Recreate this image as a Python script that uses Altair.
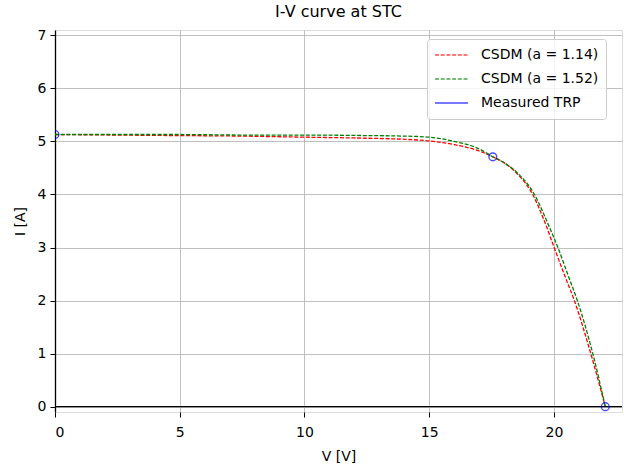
import altair as alt
import pandas as pd

# ---- data ----
v_red = [0, 2.5, 5, 7.5, 10, 12.5, 14, 15, 16, 17, 17.55, 18, 18.51, 19.15, 19.65, 20.01, 20.41, 20.82, 21.48, 22.06]
i_red = [5.13, 5.12, 5.11, 5.10, 5.08, 5.06, 5.04, 5.01, 4.94, 4.82, 4.71, 4.60, 4.40, 4.0, 3.46, 3.0, 2.5, 2.0, 1.0, 0.0]

v_green = [0, 2.5, 5, 7.5, 10, 12.5, 14, 15, 16, 17, 17.55, 18, 18.55, 19.22, 19.75, 20.16, 20.55, 20.94, 21.56, 22.06]
i_green = [5.13, 5.13, 5.13, 5.12, 5.12, 5.11, 5.10, 5.08, 5.00, 4.86, 4.71, 4.60, 4.40, 4.0, 3.46, 3.0, 2.5, 2.0, 1.0, 0.0]

v_meas = [0, 17.55, 22.06]
i_meas = [5.13, 4.71, 0.0]

series_names = ["CSDM (a = 1.14)", "CSDM (a = 1.52)", "Measured TRP"]
series_colors = ["#ff0000", "#008000", "#0000ff"]
series_dash = [[4, 1.7], [4, 1.7], [1, 0]]

x_ticks = [0, 5, 10, 15, 20]
y_ticks = [0, 1, 2, 3, 4, 5, 6, 7]
zero_line = [0]

curves = pd.concat([
    pd.DataFrame({"V": v_red, "I": i_red, "series": series_names[0]}),
    pd.DataFrame({"V": v_green, "I": i_green, "series": series_names[1]}),
])
meas = pd.DataFrame({"V": v_meas, "I": i_meas, "series": series_names[2]})
zero_df = pd.DataFrame({"I": zero_line})

FONT = "DejaVu Sans"

xscale = alt.Scale(domain=[0, 22.73], nice=False, zero=False)
yscale = alt.Scale(domain=[-0.1, 7.1], nice=False, zero=False)
color = alt.Color(
    "series:N",
    scale=alt.Scale(domain=series_names, range=series_colors),
    legend=alt.Legend(
        title=None,
        orient="none",
        legendX=372,
        legendY=9,
        symbolType="stroke",
        symbolSize=1089,
        symbolStrokeWidth=1.4,
        labelFontSize=14,
        labelFont=FONT,
        labelColor="#000000",
        clipHeight=18,
        rowPadding=6,
        labelOffset=12,
        padding=7,
        fillColor="rgba(255,255,255,0.8)",
        strokeColor="#cccccc",
        cornerRadius=3,
    ),
)
dash = alt.StrokeDash(
    "series:N",
    scale=alt.Scale(domain=series_names, range=series_dash),
    legend=None,
)

x_enc = alt.X(
    "V:Q",
    scale=xscale,
    axis=alt.Axis(
        values=x_ticks,
        title="V [V]",
        grid=True,
        gridColor="#b0b0b0",
        gridWidth=0.8,
        domain=False,
        tickColor="#000000",
        tickSize=5,
        labelFontSize=14,
        labelPadding=8,
        labelFont=FONT,
        labelColor="#000000",
        titleFont=FONT,
        titleFontSize=14,
        titleFontWeight="normal",
        titleColor="#000000",
        titlePadding=10,
    ),
)
y_enc = alt.Y(
    "I:Q",
    scale=yscale,
    axis=alt.Axis(
        values=y_ticks,
        title="I [A]",
        grid=True,
        gridColor="#b0b0b0",
        gridWidth=0.8,
        domainColor="#000000",
        domainWidth=1.3,
        tickColor="#000000",
        tickSize=5,
        labelFontSize=14,
        labelPadding=4,
        labelFont=FONT,
        labelColor="#000000",
        titleFont=FONT,
        titleFontSize=14,
        titleFontWeight="normal",
        titleColor="#000000",
        titlePadding=10,
    ),
)

zero_rule = alt.Chart(zero_df).mark_rule(color="#000000", strokeWidth=1.3).encode(
    y=alt.Y("I:Q", scale=yscale)
)
lines = alt.Chart(curves).mark_line(
    strokeWidth=1.3, clip=True, interpolate="monotone"
).encode(x=x_enc, y=y_enc, color=color, strokeDash=dash, order="V:Q")
points = alt.Chart(meas).mark_point(
    filled=False, size=60, strokeWidth=1.4, shape="circle", clip=True
).encode(x=alt.X("V:Q", scale=xscale), y=alt.Y("I:Q", scale=yscale), color=color)

chart = (
    alt.layer(lines, zero_rule, points)
    .properties(
        width=567,
        height=382,
        autosize=alt.AutoSizeParams(type="none"),
        padding={"left": 55, "top": 30, "right": 2, "bottom": 56},
        title=alt.Title(
            "I-V curve at STC",
            font=FONT,
            fontSize=16,
            fontWeight="normal",
            color="#000000",
            offset=8,
        ),
    )
    .configure_view(stroke=None)
    .configure(background="white")
)

chart.save("out.html", embed_options={"renderer": "svg", "actions": False})
